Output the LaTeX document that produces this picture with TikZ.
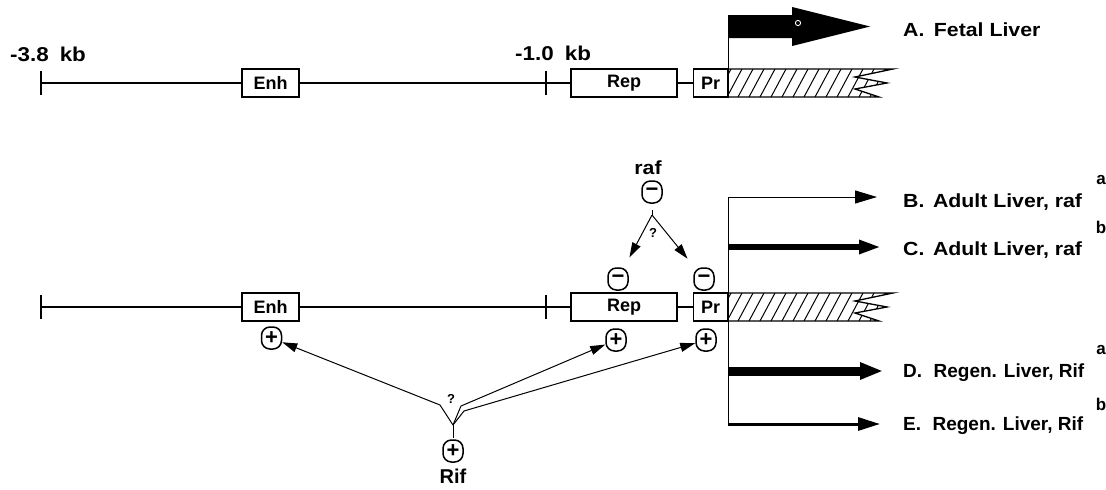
\documentclass[tikz,border=0pt]{standalone}
\usepackage{fontspec}
\setmainfont{Liberation Sans}
\newfontfamily\widesans{Liberation Sans}[FakeStretch=1.12]
\usetikzlibrary{arrows.meta}

\begin{document}
\begin{tikzpicture}[x=1pt,y=-1pt,line join=miter,
  dna/.style={line width=1.4pt},
  region/.style={draw,line width=1.4pt,minimum height=28pt,inner sep=0pt,fill=white,
    font=\fontsize{18}{18}\selectfont\bfseries},
  sign/.style={draw,line width=1.5pt,rounded corners=8.5pt,minimum width=20pt,
    minimum height=22pt,inner sep=0pt,font=\fontsize{22}{22}\selectfont\bfseries},
  lbl/.style={anchor=base west,inner sep=0pt,font=\fontsize{19}{19}\selectfont\bfseries},
  widelbl/.style={lbl,font=\fontsize{19}{19}\widesans\bfseries},
  suptxt/.style={inner sep=0pt,font=\fontsize{17}{17}\selectfont\bfseries},
  qmark/.style={inner sep=0pt,font=\fontsize{13}{13}\selectfont\bfseries},
  reg/.style={-{Triangle[length=15pt,width=9pt]},line width=1pt},
  express/.style={-{Triangle[length=22pt,width=13pt]}},
]
\useasboundingbox (0,0) rectangle (1106,490);

% ---------- the two copies of the gene ----------
\foreach \r/\y in {1/83,2/307}{
  \coordinate (start\r) at (41,\y);
  \coordinate (mark\r) at (546,\y);
  \node[region,minimum width=57pt] (enh\r) at (270.5,\y) {Enh};
  \node[region,minimum width=106pt] (rep\r) at (624,\y) {Rep};
  \node[region,minimum width=34pt] (pr\r) at (710.5,\y) {Pr};
  \draw[dna] (start\r) -- (enh\r.west) (enh\r.east) -- (rep\r.west) (rep\r.east) -- (pr\r.west);
  \draw[dna] ([yshift=-12pt]start\r) -- ([yshift=12pt]start\r);
  \draw[dna] ([yshift=-12pt]mark\r) -- ([yshift=12pt]mark\r);
  % hatched coding region with a broken end
  \begin{scope}[shift={(0,\y-83)}]
    \begin{scope}
      \clip (728,69) -- (893,69) -- (855,77) -- (887,83) -- (855,89) -- (879,97) -- (728,97) -- cycle;
      \foreach \i in {0,...,17}
        \draw[line width=1pt] (716+\i*11,97) -- ++(15,-28);
    \end{scope}
    \draw[line width=1.3pt] (728,69) -- (893,69) -- (855,77) -- (887,83) -- (855,89) -- (879,97) -- (728,97);
    \draw[line width=2.4pt] (728,68.3) -- (728,97.7);
  \end{scope}
}

% scale labels
\node[widelbl,font=\fontsize{20}{20}\widesans\bfseries] (kb38) at (10,61) {-3.8\hspace{0.55em}kb};
\node[widelbl,font=\fontsize{20}{20}\widesans\bfseries] (kb10) at (515,60) {-1.0\hspace{0.55em}kb};

% ---------- fetal transcription start ----------
\coordinate (flagfoot) at (728.5,69);
\coordinate (flagtop) at (728.5,15);
\draw[line width=1pt] (flagfoot) -- (flagtop);
\fill (728,15) -- (792,15) -- (792,7) -- (870,26.5) -- (792,46) -- (792,38) -- (728,38) -- cycle;
\draw[white,line width=0.9pt] (798,23) circle (2.6pt);
\node[widelbl] (labA) at (903,36) {A.\hspace{0.5em}Fetal Liver};

% ---------- adult / regenerating transcripts ----------
\coordinate (trunkT) at (728.5,197);
\coordinate (trunkB) at (728.5,424);
\draw[line width=1.1pt] (trunkT) -- (trunkB);

\coordinate (bS) at (728,197);  \coordinate (bE) at (877,197);
\coordinate (cS) at (728,247);  \coordinate (cE) at (881,247);
\coordinate (dS) at (728,371);  \coordinate (dE) at (883,371);
\coordinate (eS) at (728,424);  \coordinate (eE) at (880,424);
\draw[express,line width=1pt] (bS) -- (bE);
\draw[express,line width=6pt] (cS) -- (cE);
\draw[-{Triangle[length=23pt,width=16pt]},line width=9pt] (dS) -- (dE);
\draw[express,line width=3pt] (eS) -- (eE);

\node[widelbl] (labB) at (903,207) {B.\hspace{0.45em}Adult Liver, raf};
\node[widelbl] (labC) at (903,255) {C.\hspace{0.45em}Adult Liver, raf};
\node[lbl] (labD) at (903,377) {D.\hspace{0.6em}Regen. Liver, Rif};
\node[lbl] (labE) at (903,430) {E.\hspace{0.6em}Regen. Liver, Rif};
\node[suptxt] (supB) at (1101,180) {a};
\node[suptxt] (supC) at (1101,227) {b};
\node[suptxt] (supD) at (1101,350) {a};
\node[suptxt] (supE) at (1101,404) {b};

% ---------- raf: negative control ----------
\node[inner sep=0pt,font=\fontsize{19}{19}\widesans\bfseries] (raf) at (648,168) {raf};
\node[sign] (rafm) at (652,192) {−};
\node[sign] (repm) at (618,279) {−};
\node[sign] (prm) at (704,279) {−};
\coordinate (rafstem) at (652,210);
\coordinate (rafv) at (652,215);
\draw[line width=1pt] (rafstem) -- (rafv);
\draw[reg,shorten >=11pt] (rafv) -- (repm);
\draw[reg,shorten >=11pt] (rafv) -- (prm);
\node[qmark] (rafq) at (653,233) {?};

% ---------- Rif: positive control ----------
\node[sign] (enhp) at (271.5,338) {+};
\node[sign] (repp) at (616,340) {+};
\node[sign] (prp) at (706,340) {+};
\node[sign] (rifp) at (453,451) {+};
\node[inner sep=0pt,font=\fontsize{20}{20}\selectfont\bfseries] (rif) at (453,476) {Rif};
\coordinate (rifstem) at (453,438);
\coordinate (rifv) at (453,425);
\coordinate (kL) at (440,405);
\coordinate (kR1) at (461,406);
\coordinate (kR2) at (464,411);
\draw[line width=1pt] (rifstem) -- (rifv);
\draw[line width=1pt] (rifv) -- (kL);
\draw[line width=1pt] (rifv) -- (kR1);
\draw[line width=1pt] (rifv) -- (kR2);
\draw[reg] (kL) -- (enhp);
\draw[reg] (kR1) -- (repp);
\draw[reg] (kR2) -- (prp);
\node[qmark] (rifq) at (451,399) {?};
\end{tikzpicture}
\end{document}
